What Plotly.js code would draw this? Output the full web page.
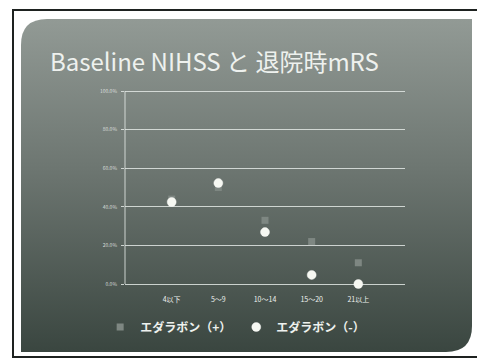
<!DOCTYPE html>
<html>
<head>
<meta charset="utf-8">
<script src="https://cdn.plot.ly/plotly-3.0.1.min.js"></script>
<style>
  html, body { margin: 0; padding: 0; background: #ffffff; }
  #chart { width: 477px; height: 361px; }
</style>
</head>
<body>
<div id="chart"></div>
<script>
// NIHSS groups on the x axis
const categories = ['4以下', '5～9', '10～14', '15～20', '21以上'];
// share of patients (%) per group
const withEdaravone = [44, 50, 33, 22, 11];
const withoutEdaravone = [42.5, 52.3, 26.9, 4.7, 0];
// value axis ticks
const yTickValues = [0, 20, 40, 60, 80, 100];
const yTickLabels = ['0.0%', '20.0%', '40.0%', '60.0%', '80.0%', '100.0%'];
const seriesNames = ['エダラボン（+）', 'エダラボン（-）'];

const W = 477, H = 361;

// slide backdrop: thin frame plus a shaded panel with two rounded corners
function slideBackdrop() {
  const c = document.createElement('canvas');
  c.width = W; c.height = H;
  const g = c.getContext('2d');
  g.fillStyle = '#ffffff';
  g.fillRect(0, 0, W, H);
  g.strokeStyle = '#1e2220';
  g.lineWidth = 2;
  g.strokeRect(13, 10, W + 10, 347);

  const x0 = 21, y0 = 19, x1 = 472, y1 = 352, r = 26;
  const grad = g.createLinearGradient(0, y0, 0, y1);
  grad.addColorStop(0, '#929a95');
  grad.addColorStop(0.45, '#6d7671');
  grad.addColorStop(1, '#3a4640');
  g.fillStyle = grad;
  g.beginPath();
  g.moveTo(x0 + r, y0);
  g.lineTo(x1, y0);
  g.lineTo(x1, y1 - r);
  g.quadraticCurveTo(x1, y1, x1 - r, y1);
  g.lineTo(x0, y1);
  g.lineTo(x0, y0 + r);
  g.quadraticCurveTo(x0, y0, x0 + r, y0);
  g.closePath();
  g.fill();
  return c.toDataURL('image/png');
}

const jpFont = '"Noto Sans CJK JP", "Noto Sans", sans-serif';
const lineCol = 'rgba(226,232,228,0.85)';

// value axis: 1.93 px per percent, padded by 2% at both ends so the
// 0% and 100% grid lines stay inside the plotting area
const pxPerUnit = 1.93, pad = 2;

const traces = [
  {
    type: 'scatter', mode: 'markers',
    name: seriesNames[0],
    x: categories, y: withEdaravone,
    marker: { symbol: 'square', size: 7, color: '#7e8782' },
    cliponaxis: false
  },
  {
    type: 'scatter', mode: 'markers',
    name: seriesNames[1],
    x: categories, y: withoutEdaravone,
    marker: { symbol: 'circle', size: 9, color: '#f6f8f2',
              line: { width: 1, color: 'rgba(255,255,255,0.4)' } },
    cliponaxis: false
  }
];

const layout = {
  width: W, height: H,
  margin: { l: 0, r: 0, t: 0, b: 0, pad: 0 },
  paper_bgcolor: '#ffffff',
  plot_bgcolor: 'rgba(0,0,0,0)',
  showlegend: true,
  title: {
    text: 'Baseline NIHSS と 退院時mRS',
    x: 50 / W, xanchor: 'left', xref: 'paper',
    y: 1 - 63 / H, yanchor: 'middle', yref: 'paper',
    font: { family: jpFont, size: 24, color: '#eef1ee' }
  },
  xaxis: {
    domain: [125 / W, 405 / W],
    type: 'category',
    range: [-1, 5],
    showgrid: false, zeroline: false,
    showline: false,
    ticks: '',
    ticklabelstandoff: 6,
    tickfont: { family: jpFont, size: 7, color: '#eef2ee' },
    fixedrange: true
  },
  yaxis: {
    domain: [1 - (284 + pad * pxPerUnit) / H, 1 - (91 - pad * pxPerUnit) / H],
    range: [-pad, 100 + pad],
    tickvals: yTickValues,
    ticktext: yTickLabels,
    showgrid: true, gridcolor: lineCol, gridwidth: 1,
    zeroline: false,
    showline: false,
    ticks: 'outside', ticklen: 3, tickcolor: lineCol,
    tickfont: { family: jpFont, size: 5, color: 'rgba(235,240,236,0.85)' },
    ticklabelstandoff: 3,
    fixedrange: true
  },
  shapes: [{
    // value axis line, from 0% to 100%
    type: 'line', xref: 'x domain', yref: 'y',
    x0: 0, x1: 0, y0: 0, y1: 100,
    line: { color: lineCol, width: 1 },
    layer: 'below'
  }],
  legend: {
    orientation: 'h',
    x: 0.493, xanchor: 'center',
    y: 1 - 327 / H, yanchor: 'middle',
    bgcolor: 'rgba(0,0,0,0)',
    font: { family: jpFont, size: 12, color: '#eef1ee', weight: 'bold' },
    itemwidth: 30,
    tracegroupgap: 0
  },
  images: [{
    source: slideBackdrop(),
    xref: 'paper', yref: 'paper',
    x: 0, y: 1, sizex: 1, sizey: 1,
    xanchor: 'left', yanchor: 'top',
    sizing: 'stretch', layer: 'below'
  }]
};

Plotly.newPlot('chart', traces, layout, { displayModeBar: false, staticPlot: true });
</script>
</body>
</html>
